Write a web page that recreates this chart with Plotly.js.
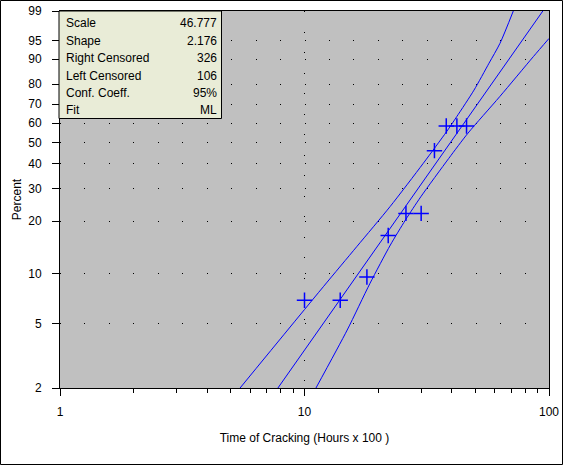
<!DOCTYPE html>
<html>
<head>
<meta charset="utf-8">
<script src="https://cdn.plot.ly/plotly-3.0.1.min.js"></script>
<style>
    body { margin: 0; background: #ffffff; }
    #chart { width: 563px; height: 465px; }
</style>
</head>
<body>
<div id="chart"></div>
<script>
// Точки графіка (час у сотнях годин, відсоток).
const crackTimes = [10, 14, 18, 22, 26, 30, 34, 38, 42, 46];
const crackPercents = [6.9, 6.9, 9.5, 16.6, 22.1, 22.1, 46.0, 58.5, 58.5, 58.5];

// Ліва (верхня) межа довірчого інтервалу.
const upperBandTimes = [5.45, 11.94, 16.35, 22.37, 30.61, 38.15, 41.94, 49.35, 56.84, 63.03, 71.45];
const upperBandPercents = [2, 8.32, 14.32, 24.04, 40.17, 55.6, 63.4, 77.1, 88.6, 94.45, 99];

// Права (нижня) межа довірчого інтервалу.
const lowerBandTimes = [11.14, 14.95, 18.53, 22.45, 25.88, 29.91, 38.92, 46.59, 62.81, 86.27, 100];
const lowerBandPercents = [2, 4.55, 8.72, 14.65, 20.32, 27.2, 42.4, 54.7, 73.8, 90.8, 95.5];

// Параметри підгонки Вейбулла.
const fitScale = 46.777;
const fitShape = 2.176;

// Підписи осей.
const percentTicks = [2, 5, 10, 20, 30, 40, 50, 60, 70, 80, 90, 95, 99];
const timeTicks = [1, 10, 100];
const timeMinorTicks = [2, 3, 4, 5, 6, 7, 8, 9, 20, 30, 40, 50, 60, 70, 80, 90];

// Таблиця у верхньому лівому куті.
const statLabels = ["Scale", "Shape", "Right Censored", "Left Censored", "Conf. Coeff.", "Fit"];
const statValues = ["46.777", "2.176", "326", "106", "95%", "ML"];

// ========================================================================
// Шкала Вейбулла: відсоток -> ln(-ln(1 - p)).
const weib = (p) => Math.log(-Math.log(1 - p / 100));

// Пряма підгонки на папері Вейбулла: w = shape * (ln t - ln scale).
const fitTimes = [1, 100];
const fitW = fitTimes.map((t) => fitShape * (Math.log(t) - Math.log(fitScale)));

const blue = "#0000ff";
const font = { family: "Liberation Sans, Arial, sans-serif", size: 12, color: "#000000" };

// Лінії меж малюємо згладженими, щоб не було зламів.
const bandLine = { color: blue, width: 1, shape: "spline", smoothing: 0.7 };

const traces = [
    {
        x: upperBandTimes,
        y: upperBandPercents.map(weib),
        mode: "lines",
        type: "scatter",
        line: bandLine,
        hoverinfo: "skip",
    },
    {
        x: lowerBandTimes,
        y: lowerBandPercents.map(weib),
        mode: "lines",
        type: "scatter",
        line: bandLine,
        hoverinfo: "skip",
    },
    {
        x: fitTimes,
        y: fitW,
        mode: "lines",
        type: "scatter",
        line: { color: blue, width: 1 },
        hoverinfo: "skip",
    },
    {
        x: crackTimes,
        y: crackPercents.map(weib),
        mode: "markers",
        type: "scatter",
        marker: {
            symbol: "cross-thin-open",
            size: 11,
            color: blue,
            line: { color: blue, width: 1.5 },
        },
    },
];

// Переводимо пікселі в координати paper (ділянка 60..549 x 11..388).
const px = (p) => (p - 60) / 489;
const py = (p) => (388 - p) / 377;

// Рамка таблиці та рамка навколо всього рисунка.
const shapes = [
    {
        type: "rect", xref: "paper", yref: "paper",
        x0: px(59), x1: px(221.5), y0: py(118.5), y1: py(11),
        fillcolor: "#e9ecd7",
        line: { color: "#000000", width: 1 },
    },
    {
        type: "rect", xref: "paper", yref: "paper",
        x0: px(0.5), x1: px(562.5), y0: py(464.5), y1: py(0.5),
        line: { color: "#000000", width: 1 },
    },
];

const rowY = [23.3, 41, 58.3, 76, 93.3, 110];
const annotations = [];
statLabels.forEach((label, i) => {
    annotations.push({
        xref: "paper", yref: "paper",
        x: px(63.5), y: py(rowY[i]),
        xanchor: "left", yanchor: "middle",
        text: label, showarrow: false, font: font,
    });
    annotations.push({
        xref: "paper", yref: "paper",
        x: px(218.5), y: py(rowY[i]),
        xanchor: "right", yanchor: "middle",
        text: statValues[i], showarrow: false, font: font,
    });
});

const layout = {
    width: 563,
    height: 465,
    margin: { l: 60, r: 14, t: 11, b: 77 },
    paper_bgcolor: "#ffffff",
    plot_bgcolor: "#c0c0c0",
    showlegend: false,
    font: font,
    xaxis: {
        type: "log",
        range: [0, 2],
        tickvals: timeTicks,
        ticktext: timeTicks.map(String),
        ticks: "outside",
        ticklen: 7,
        tickcolor: "#000000",
        ticklabelstandoff: 6,
        showline: true,
        linecolor: "#000000",
        linewidth: 1,
        mirror: true,
        showgrid: true,
        gridcolor: "#000000",
        gridwidth: 1,
        griddash: "1px,19.5px",
        zeroline: false,
        minor: {
            tickvals: timeMinorTicks,
            ticks: "outside",
            ticklen: 4,
            tickcolor: "#000000",
            showgrid: false,
        },
        title: { text: "Time of Cracking (Hours x 100 )", font: font, standoff: 15 },
    },
    yaxis: {
        range: [weib(2), weib(99)],
        tickvals: percentTicks.map(weib),
        ticktext: percentTicks.map(String),
        ticks: "outside",
        ticklen: 7,
        tickcolor: "#000000",
        ticklabelstandoff: 8,
        showline: true,
        linecolor: "#000000",
        linewidth: 1,
        mirror: true,
        showgrid: true,
        gridcolor: "#000000",
        gridwidth: 1,
        griddash: "1px,23.45px",
        zeroline: false,
        title: { text: "Percent", font: font, standoff: 4 },
    },
    shapes: shapes,
    annotations: annotations,
};

Plotly.newPlot("chart", traces, layout, { displayModeBar: false, staticPlot: true });
</script>
</body>
</html>
